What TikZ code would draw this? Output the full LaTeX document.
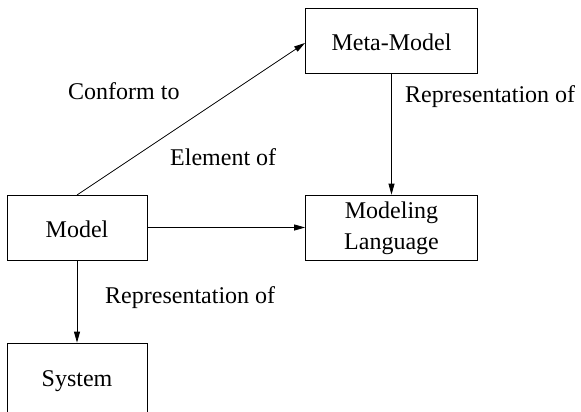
\documentclass[tikz,border=0pt]{standalone}
\usepackage{fontspec}
\setmainfont{Liberation Serif}
\usetikzlibrary{arrows.meta}
\begin{document}
\begin{tikzpicture}[x=1pt,y=-1pt,
  box/.style={draw,line width=0.8pt,fill=white},
  link/.style={line width=0.8pt,-{Triangle[length=11pt,width=6pt]}},
  lbl/.style={font=\fontsize{24}{30}\selectfont,inner sep=0pt},
  boxtext/.style={font=\fontsize{24}{30}\selectfont,align=center}]
\useasboundingbox (0,0) rectangle (581,412);
% boxes
\node[box,minimum width=172pt,minimum height=65pt] (meta) at (391.5,40.5) {};
\node[lbl] (metatxt) at (391.5,42) {Meta-Model};
\node[box,minimum width=172pt,minimum height=65pt] (lang) at (391.5,227.5) {};
\node[lbl,boxtext] (langtxt) at (391.5,228) {Modeling\\[1pt]Language};
\node[box,minimum width=140pt,minimum height=65pt] (model) at (77,227.5) {};
\node[lbl] (modeltxt) at (77,229) {Model};
\node[box,minimum width=140pt,minimum height=90pt] (sys) at (77,388) {};
\node[lbl] (systxt) at (77,381) {System};
% connectors
\coordinate (mtop) at (77,195);
\coordinate (mleft) at (305,43);
\draw[link] (mtop) -- (mleft);
\draw[link] (meta.south) -- (lang.north);
\draw[link] (model.east) -- (lang.west);
\draw[link] (model.south) -- (sys.north);
% labels
\node[lbl,anchor=west] (l1) at (68,91) {Conform to};
\node[lbl,anchor=west] (l2) at (170,157) {Element of};
\node[lbl,anchor=west] (l3) at (405,97) {Representation of};
\node[lbl,anchor=west] (l4) at (105,298) {Representation of};
\end{tikzpicture}
\end{document}
